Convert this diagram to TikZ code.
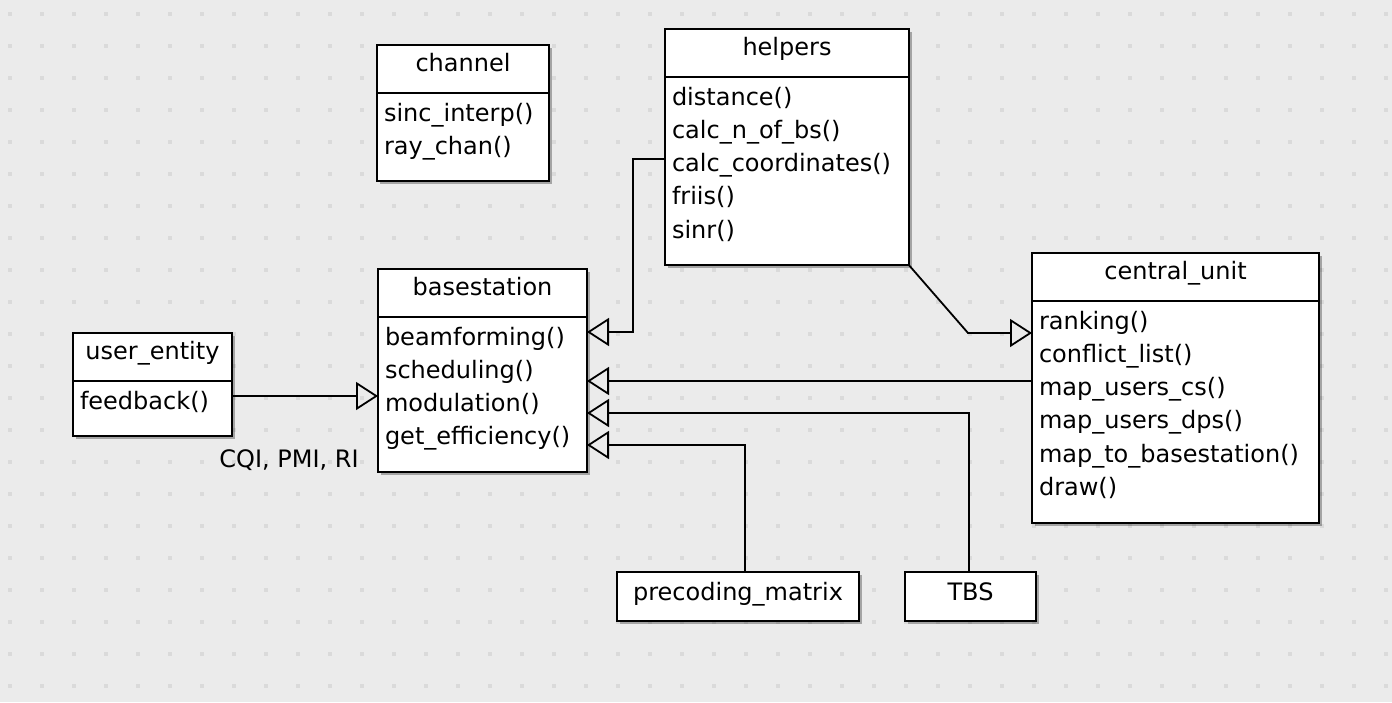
\documentclass[tikz,border=0pt]{standalone}
\usepackage{fontspec}
\setmainfont{DejaVu Sans}
\usepackage{tikz}
\usetikzlibrary{positioning, shadows, arrows.meta}
\definecolor{canvasgray}{RGB}{235, 235, 235}
\definecolor{gridgray}{RGB}{218, 218, 218}

\begin{document}
\begin{tikzpicture}[
            x=1pt, y=-1pt,
            font=\fontsize{24}{33.3}\selectfont,
            box/.style={draw=black, fill=white, line width=2pt, inner xsep=7pt, inner ysep=0pt, outer sep=0pt, drop shadow={shadow xshift=3pt, shadow yshift=-3pt, fill=black, opacity=0.3}},
            classname/.style={box, anchor=north west, minimum width=#1, text height=26pt, text depth=22pt},
            members/.style={box, align=left, execute at begin node=\rule{0pt}{28pt}, execute at end node=\rule[-27pt]{0pt}{0pt}},
            inherit/.style={-{Triangle[open, length=22pt, width=28pt]}, line width=1.8pt}
        ]
            \fill[canvasgray] (0,0) rectangle (1392,702);
            \foreach \i in {0,...,43}
                \foreach \j in {0,...,21}
                    \fill[gridgray] (8+32*\i,12+32*\j) rectangle ++(4,4);

            \node[classname=172pt] (channel) at (377,45) {channel};
            \node[members, text width=158pt, below=0pt of channel] (channel-ops) {sinc\_interp()\\ray\_chan()};

            \node[classname=244pt] (helpers) at (665,29) {helpers};
            \node[members, text width=230pt, below=0pt of helpers] (helpers-ops) {distance()\\calc\_n\_of\_bs()\\calc\_coordinates()\\friis()\\sinr()};

            \node[classname=209pt] (basestation) at (378,269) {basestation};
            \node[members, text width=195pt, below=0pt of basestation] (basestation-ops) {beamforming()\\scheduling()\\modulation()\\get\_efficiency()};

            \node[classname=159pt] (user) at (73,333) {user\_entity};
            \node[members, text width=145pt, below=0pt of user] (user-ops) {feedback()};

            \node[classname=287pt] (central) at (1032,253) {central\_unit};
            \node[members, text width=273pt, below=0pt of central] (central-ops) {ranking()\\conflict\_list()\\map\_users\_cs()\\map\_users\_dps()\\map\_to\_basestation()\\draw()};

            \node[classname=242pt, text depth=21pt, text height=28pt] (precoding) at (617,572) {precoding\_matrix};
            \node[classname=131pt, text depth=21pt, text height=28pt] (tbs) at (905,572) {TBS};

            \node[anchor=base] (feedback-label) at (289,467) {CQI, PMI, RI};

            \draw[inherit] ([yshift=-82pt]helpers-ops.north west) -- ++(-32,0) |- ([yshift=-15pt]basestation-ops.north east);
            \draw[inherit] ([yshift=-64pt]basestation-ops.north east -| central-ops.west) -- ([yshift=-64pt]basestation-ops.north east);
            \draw[inherit] ([xshift=-1.5pt]tbs.north) |- ([yshift=-96pt]basestation-ops.north east);
            \draw[inherit] ([xshift=7pt]precoding.north) |- ([yshift=-128pt]basestation-ops.north east);
            \draw[inherit] ([yshift=-15pt]user-ops.north east) -- ([yshift=-79pt]basestation-ops.north west);
            \draw[inherit] (helpers-ops.south east) -- ([xshift=-64pt, yshift=-32pt]central-ops.north west) -- ([yshift=-32pt]central-ops.north west);
        \end{tikzpicture}
\end{document}
